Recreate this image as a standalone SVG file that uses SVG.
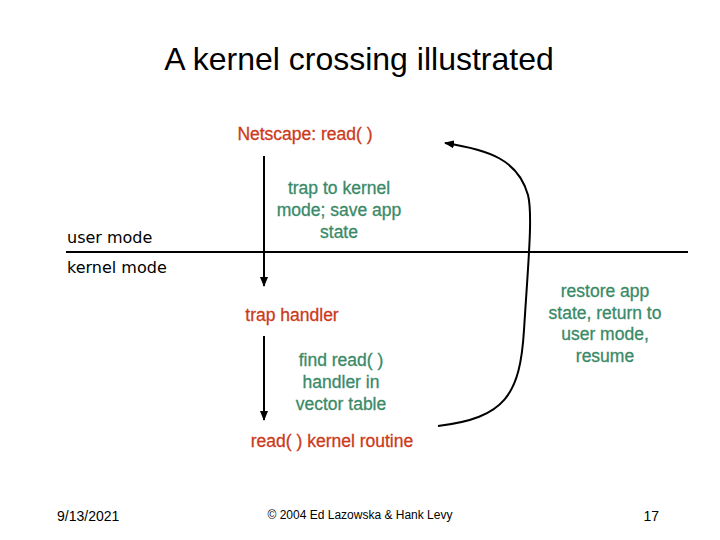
<svg xmlns="http://www.w3.org/2000/svg" width="720" height="540" viewBox="0 0 720 540">
<style>
.t{font-family:"Liberation Sans",Arial,sans-serif;text-anchor:middle}
.red{fill:#cc3a1a;font-size:17.5px;stroke:#cc3a1a;stroke-width:0.3px}
.grn{fill:#3a8a68;font-size:17.5px;stroke:#3a8a68;stroke-width:0.3px}
.mode{font-family:"DejaVu Sans",sans-serif;font-size:16px;fill:#000}
.ln{stroke:#000;stroke-width:2;fill:none}
.ft{font-family:"Liberation Sans",Arial,sans-serif;fill:#000}
</style>
<defs>
<marker id="ah" markerWidth="10" markerHeight="8" refX="9" refY="4" orient="auto" markerUnits="userSpaceOnUse">
<path d="M0,0 L10,4 L0,8 Z" fill="#000"/>
</marker>
</defs>
<rect width="720" height="540" fill="#fff"/>
<text class="t" x="359" y="70" font-size="32" fill="#000">A kernel crossing illustrated</text>
<g id="boundary">
<line class="ln" x1="66" y1="252" x2="688" y2="252" stroke-width="3"/>
<text class="mode" x="67" y="243">user mode</text>
<text class="mode" x="67" y="273">kernel mode</text>
</g>
<g id="netscape"><text class="t red" x="305" y="140">Netscape: read( )</text></g>
<g id="trap-label"><text class="t grn"><tspan x="339" y="194">trap to kernel</tspan><tspan x="339" y="216">mode; save app</tspan><tspan x="339" y="238">state</tspan></text></g>
<g id="trap-handler"><text class="t red" x="292" y="321">trap handler</text></g>
<g id="find-label"><text class="t grn"><tspan x="341" y="366">find read( )</tspan><tspan x="341" y="388">handler in</tspan><tspan x="341" y="410">vector table</tspan></text></g>
<g id="kernel-routine"><text class="t red" x="332" y="447">read( ) kernel routine</text></g>
<g id="restore-label"><text class="t grn"><tspan x="605" y="297">restore app</tspan><tspan x="605" y="319">state, return to</tspan><tspan x="605" y="340">user mode,</tspan><tspan x="605" y="362">resume</tspan></text></g>
<g id="connectors">
<line class="ln" x1="264" y1="156" x2="264" y2="286" marker-end="url(#ah)"/>
<line class="ln" x1="264" y1="336" x2="264" y2="420" marker-end="url(#ah)"/>
<path class="ln" d="M438,426 C505,418 520,395 524,330 C528,265 533,215 528,195 C518,160 490,150 445,143" marker-end="url(#ah)"/>
</g>
<g id="footer">
<text class="ft" x="57" y="521" font-size="14">9/13/2021</text>
<text class="ft" x="360" y="519" text-anchor="middle" font-size="12">© 2004 Ed Lazowska &amp; Hank Levy</text>
<text class="ft" x="659" y="521" text-anchor="end" font-size="14">17</text>
</g>
</svg>
